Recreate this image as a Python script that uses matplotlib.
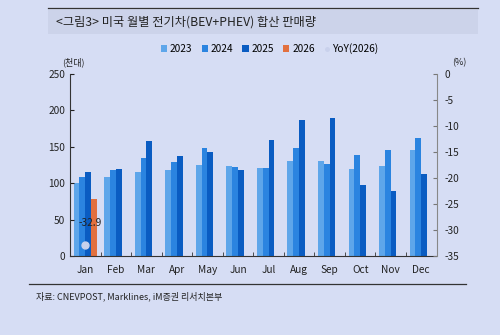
import matplotlib.pyplot as plt
import numpy as np

plt.rcParams['font.family'] = ['Noto Sans CJK KR', 'DejaVu Sans']
plt.rcParams['axes.unicode_minus'] = False

# data (천대)
months = ['Jan', 'Feb', 'Mar', 'Apr', 'May', 'Jun',
          'Jul', 'Aug', 'Sep', 'Oct', 'Nov', 'Dec']
sales_2023 = [100, 108, 115, 118, 125, 123, 121, 130, 131, 120, 123, 145]
sales_2024 = [109, 118, 134, 129, 148, 122, 121, 148, 127, 139, 145, 162]
sales_2025 = [116, 119, 158, 137, 143, 118, 159, 186, 190, 98, 89, 112]
sales_2026 = [78] + [np.nan] * 11
yoy_2026 = [-32.9] + [np.nan] * 11

bg = '#d6ddf4'
c23, c24, c25, c26 = '#5ea6ea', '#2b84e0', '#0a5cc2', '#e2703f'

fig = plt.figure(figsize=(5, 3.35), dpi=100, facecolor=bg)

# title band
fig.patches.append(plt.Rectangle((0.096, 0.90), 0.86, 0.07, transform=fig.transFigure,
                                 facecolor='#ccd3ea', edgecolor='none'))
fig.add_artist(plt.Line2D([0.096, 0.956], [0.976, 0.976], color='#333333', lw=0.9))
fig.text(0.112, 0.935, '<그림3> 미국 월별 전기차(BEV+PHEV) 합산 판매량',
         fontsize=8.8, color='#222222', va='center')

ax = fig.add_axes([0.14, 0.235, 0.733, 0.545])
ax.set_facecolor(bg)
x = np.arange(len(months))
w = 0.19
ax.bar(x - 1.5 * w, sales_2023, w, color=c23, label='2023')
ax.bar(x - 0.5 * w, sales_2024, w, color=c24, label='2024')
ax.bar(x + 0.5 * w, sales_2025, w, color=c25, label='2025')
ax.bar(x + 1.5 * w, sales_2026, w, color=c26, label='2026')
ax.set_xlim(-0.5, 11.5)
ax.set_ylim(0, 250)
ax.set_yticks(range(0, 251, 50))
ax.set_xticks(x)
ax.set_xticklabels(months)
ax.set_xticks(np.arange(0.5, 11, 1), minor=True)
ax.tick_params(axis='x', which='major', length=0, labelsize=7.3, colors='#222222', pad=6)
ax.tick_params(axis='x', which='minor', direction='in', length=3, color='#333333')
ax.tick_params(axis='y', direction='in', length=3, labelsize=7.3, colors='#222222')
ax.spines['top'].set_visible(False)
ax.spines['right'].set_visible(False)
for s in ['left', 'bottom']:
    ax.spines[s].set_color('#333333')
    ax.spines[s].set_linewidth(0.8)

ax2 = ax.twinx()
ax2.set_ylim(-35, 0)
ax2.set_yticks(range(-35, 1, 5))
ax2.plot(x, yoy_2026, 'o', color='#c9d1ec', markersize=5, label='YoY(2026)')
ax2.annotate(f'{yoy_2026[0]}', (x[0], yoy_2026[0]), xytext=(-5, 14),
             textcoords='offset points', fontsize=7.3, color='#222222')
ax2.tick_params(axis='y', direction='in', length=3, labelsize=7.3, colors='#222222',
                color='#777777', pad=6)
ax2.spines['top'].set_visible(False)
ax2.spines['left'].set_visible(False)
ax2.spines['bottom'].set_visible(False)
ax2.spines['right'].set_color('#888888')
ax2.spines['right'].set_linewidth(0.8)

fig.text(0.125, 0.805, '(천대)', fontsize=6.5, color='#222222')
fig.text(0.905, 0.805, '(%)', fontsize=6.5, color='#222222')

h1, l1 = ax.get_legend_handles_labels()
h2, l2 = ax2.get_legend_handles_labels()
fig.legend(h1 + h2, l1 + l2, loc='center', bbox_to_anchor=(0.54, 0.855), ncol=5,
           frameon=False, fontsize=7.3, handlelength=0.6, handleheight=0.6,
           columnspacing=0.9, handletextpad=0.3, markerscale=0.5)

# footer
fig.add_artist(plt.Line2D([0.058, 0.932], [0.152, 0.152], color='#333333', lw=0.9))
fig.text(0.072, 0.115, '자료: CNEVPOST, Marklines, iM증권 리서치본부',
         fontsize=6.5, color='#222222', va='center')

fig.savefig('out.png', dpi=100, facecolor=bg)
